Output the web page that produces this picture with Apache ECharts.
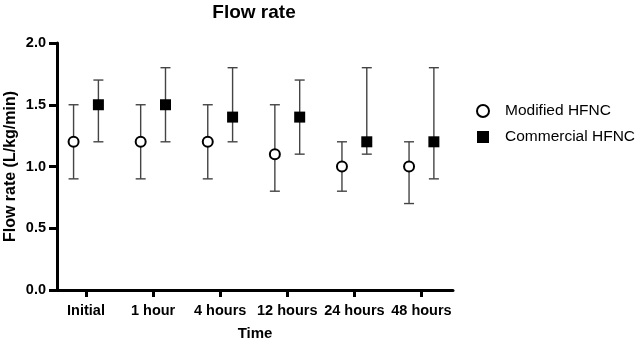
<!DOCTYPE html>
<html>
<head>
<meta charset="utf-8">
<script src="https://cdn.jsdelivr.net/npm/echarts@6/dist/echarts.min.js"></script>
<style>html,body{margin:0;padding:0;background:#fff}#c{width:641px;height:347px}</style>
</head>
<body>
<div id="c"></div>
<script>
const categories = ['Initial', '1 hour', '4 hours', '12 hours', '24 hours', '48 hours'];
const modifiedMean = [1.2, 1.2, 1.2, 1.1, 1.0, 1.0];
const modifiedLow  = [0.9, 0.9, 0.9, 0.8, 0.8, 0.7];
const modifiedHigh = [1.5, 1.5, 1.5, 1.5, 1.2, 1.2];
const commercialMean = [1.5, 1.5, 1.4, 1.4, 1.2, 1.2];
const commercialLow  = [1.2, 1.2, 1.2, 1.1, 1.1, 0.9];
const commercialHigh = [1.7, 1.8, 1.8, 1.7, 1.8, 1.8];
const yTicks = [0, 0.5, 1.0, 1.5, 2.0];

const FONT = '"Liberation Sans", Arial, sans-serif';
const offM = -0.185, offC = 0.185;
const catPos = categories.map((c, i) => i + 1);

function errData(off, mean, lo, hi) {
  return catPos.map((p, i) => [p + off, lo[i], hi[i]]);
}
function errRender(params, api) {
  const x = api.value(0);
  const lo = api.coord([x, api.value(1)]);
  const hi = api.coord([x, api.value(2)]);
  const cap = 5;
  const style = { stroke: '#444', lineWidth: 1.4, fill: null };
  return {
    type: 'group',
    children: [
      { type: 'line', shape: { x1: lo[0], y1: lo[1], x2: hi[0], y2: hi[1] }, style },
      { type: 'line', shape: { x1: lo[0] - cap, y1: lo[1], x2: lo[0] + cap, y2: lo[1] }, style },
      { type: 'line', shape: { x1: hi[0] - cap, y1: hi[1], x2: hi[0] + cap, y2: hi[1] }, style }
    ]
  };
}

const chart = echarts.init(document.getElementById('c'), null, { renderer: 'canvas' });
chart.setOption({
  animation: false,
  backgroundColor: '#fff',
  title: {
    text: 'Flow rate', left: 254, top: 3, padding: 0, textAlign: 'center',
    textStyle: { fontFamily: FONT, fontSize: 19, fontWeight: 'bold', color: '#000' }
  },
  legend: {
    orient: 'vertical', left: 471, top: 98, itemWidth: 12, itemHeight: 12, itemGap: 10,
    data: ['Modified HFNC', 'Commercial HFNC'],
    textStyle: { fontFamily: FONT, fontSize: 15.5, color: '#000', padding: [0, 0, 0, 11] }
  },
  grid: { left: 57, right: 188, top: 43, bottom: 57, containLabel: false, outerBoundsMode: 'none' },
  xAxis: {
    type: 'value', min: 0.568, max: 6.47,
    name: 'Time', nameLocation: 'middle', nameGap: 36, nameMoveOverlap: false,
    nameTextStyle: { fontFamily: FONT, fontSize: 15, fontWeight: 'bold', color: '#000' },
    axisLine: { show: true, onZero: false, lineStyle: { color: '#000', width: 3 } },
    axisTick: { show: true, length: 7, lineStyle: { color: '#000', width: 3 }, customValues: catPos },
    axisLabel: {
      customValues: catPos, margin: 13,
      formatter: v => categories[Math.round(v) - 1] || '',
      fontFamily: FONT, fontSize: 14.5, fontWeight: 'bold', color: '#000'
    },
    splitLine: { show: false }
  },
  yAxis: {
    type: 'value', min: 0, max: 2, interval: 0.5,
    name: 'Flow rate (L/kg/min)', nameLocation: 'middle', nameGap: 38, nameMoveOverlap: false,
    nameTextStyle: { fontFamily: FONT, fontSize: 16, fontWeight: 'bold', color: '#000' },
    axisLine: { show: true, lineStyle: { color: '#000', width: 3 } },
    axisTick: { show: true, length: 8, lineStyle: { color: '#000', width: 3 } },
    axisLabel: {
      margin: 11, formatter: v => v.toFixed(1),
      fontFamily: FONT, fontSize: 14.5, fontWeight: 'bold', color: '#000'
    },
    splitLine: { show: false }
  },
  series: [
    { type: 'custom', name: 'errM', renderItem: errRender, data: errData(offM, modifiedMean, modifiedLow, modifiedHigh), z: 1, silent: true },
    { type: 'custom', name: 'errC', renderItem: errRender, data: errData(offC, commercialMean, commercialLow, commercialHigh), z: 1, silent: true },
    {
      type: 'scatter', name: 'Modified HFNC', symbol: 'circle', symbolSize: 10, z: 3,
      itemStyle: { color: '#fff', borderColor: '#000', borderWidth: 2, opacity: 1 },
      data: catPos.map((p, i) => [p + offM, modifiedMean[i]])
    },
    {
      type: 'scatter', name: 'Commercial HFNC', symbol: 'rect', symbolSize: 11, z: 3,
      itemStyle: { color: '#000', opacity: 1 },
      data: catPos.map((p, i) => [p + offC, commercialMean[i]])
    }
  ]
});
</script>
</body>
</html>
